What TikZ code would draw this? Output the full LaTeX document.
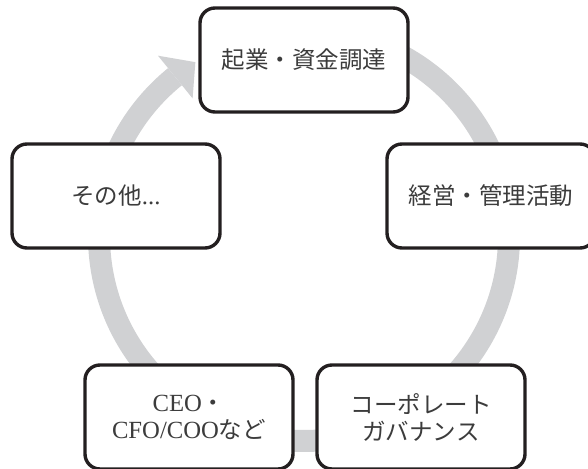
\documentclass[tikz,border=0pt]{standalone}
\usepackage{fontspec}
\setmainfont{Liberation Serif}[Scale=1.05]
\newfontfamily\cjk{Noto Sans CJK JP}
\definecolor{ringgray}{RGB}{208,209,211}
\definecolor{txt}{RGB}{60,60,60}
\definecolor{edge}{RGB}{35,31,32}
\begin{document}
\begin{tikzpicture}[x=1pt,y=1pt,
  box/.style={draw=edge, line width=3.4pt, fill=white, rounded corners=15pt,
    minimum width=208pt, minimum height=104pt, inner sep=0pt, align=center,
    text=txt, font=\fontsize{23.5}{27}\selectfont},
  ringline/.style={draw=ringgray, line width=22pt},
  ringhead/.style={fill=ringgray}]
\useasboundingbox (0,0) rectangle (588,468);
\clip (0,0) rectangle (588,468);
\coordinate (C) at (304,232);
\draw[ringline] ([shift={(95:205)}]C) arc[start angle=95, end angle=-231, radius=205];
\fill[ringhead] ([shift={(129:177)}]C) -- ([shift={(122:205)}]C) -- ([shift={(129:232)}]C) -- cycle;
\node[box] (n1) at (304,408) {\cjk 起業・資金調達};
\node[box] (n2) at (491,272) {\cjk 経営・管理活動};
\node[box] (n3) at (421,51) {\cjk コーポレート\\\cjk ガバナンス};
\node[box] (n4) at (189,51) {CEO{\cjk ・}\\CFO/COO{\cjk など}};
\node[box] (n5) at (116,272) {{\cjk その他}...};
\end{tikzpicture}
\end{document}
